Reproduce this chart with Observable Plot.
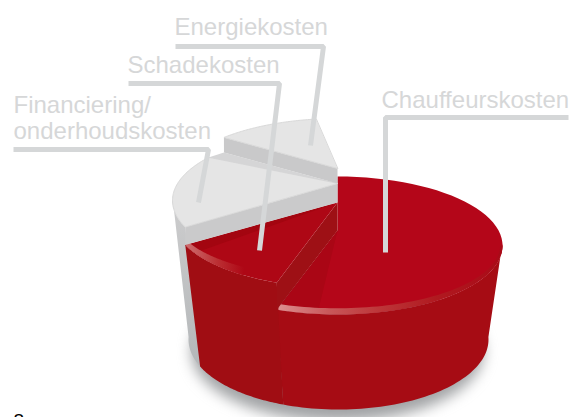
<!DOCTYPE html>
<html>
<head>
<meta charset="utf-8">
<script src="https://cdn.jsdelivr.net/npm/d3@7"></script>
<script src="https://cdn.jsdelivr.net/npm/@observablehq/plot@0.6"></script>
<style>html,body{margin:0;padding:0;background:#fff;overflow:hidden}svg{display:block}</style>
</head>
<body>
<div id="chart"></div>
<script>
// Data (share of costs, %)
const categories = ["Chauffeurskosten", "Schadekosten", "Financiering/onderhoudskosten", "Energiekosten"];
const shares = [56, 12.7, 17, 10];

// Layout of the stepped, tilted pie
const rx = 165, ry = 69, cx = 337;
const topCy = [245, 218, 200, 187];   // each slice sits higher than the previous
const apexY = [230, 202, 183, 168];
const gapBefore = [0, 0, 0, 8];       // degrees of empty rim before a slice
const base = {cx: 338, cy: 339, rx: 150, ry: 70};
const rad = d => d * Math.PI / 180;

let acc = 0;
const slices = categories.map((name, i) => {
  const start = acc + gapBefore[i];
  const end = start + shares[i] * 3.6;
  acc = end;
  return {name, start, end, cy: topCy[i], apex: apexY[i]};
});
const range = (a, b, n = 60) => d3.range(n + 1).map(k => a + (b - a) * k / n);
const topPt = (s, a, kx = 1, ky = 1) => ({x: cx + rx * kx * Math.sin(rad(a)), y: s.cy - ry * ky * Math.cos(rad(a))});
const basePt = a => ({x: base.cx + base.rx * Math.sin(rad(a)), y: base.cy - base.ry * Math.cos(rad(a))});
const topArc = (s, a, b) => range(a, b).map(d => topPt(s, d));
const baseArc = (a, b) => range(a, b).map(basePt);
const [chauffeur, schade, fin, energie] = slices;

const sector = s => [{x: cx, y: s.apex}, ...topArc(s, s.start, s.end)];
const poly = (pts, fill, extra = {}) =>
  Plot.line(pts, {x: "x", y: "y", fill, stroke: "none", curve: "linear-closed", ...extra});
const edge = (s, a, dy) => [{x: cx, y: s.apex + dy}, {x: topPt(s, a).x, y: topPt(s, a).y + dy}];

const leaders = [
  {label: "Energiekosten", pts: [[175, 46], [323, 46], [310, 145]]},
  {label: "Schadekosten", pts: [[128, 83], [279, 83], [259, 250]]},
  {label: "Financiering", pts: [[13, 149], [208, 149], [198, 202]]},
  {label: "Chauffeurskosten", pts: [[568, 117], [385, 117], [385, 252]]}
].flatMap(l => l.pts.map(([x, y]) => ({label: l.label, x, y})));

const labels = [
  {t: "Energiekosten", x: 174, y: 34},
  {t: "Schadekosten", x: 127, y: 72},
  {t: "Financiering/", x: 13, y: 112},
  {t: "onderhoudskosten", x: 13, y: 138},
  {t: "Chauffeurskosten", x: 381, y: 107}
];

const defs = () => d3.create("svg:defs").html(`
  <linearGradient id="gGrey" x1="0" y1="0" x2="0" y2="1">
    <stop offset="0" stop-color="#cdcdce"/><stop offset="1" stop-color="#b4b7b9"/>
  </linearGradient>
  <linearGradient id="gGlossA" x1="0" y1="0" x2="1" y2="0">
    <stop offset="0" stop-color="#dc8f8f"/><stop offset=".22" stop-color="#c9595b"/>
    <stop offset=".45" stop-color="#bd3639"/><stop offset=".7" stop-color="#b01a20"/>
    <stop offset="1" stop-color="#a90a17"/>
  </linearGradient>
  <linearGradient id="gGlossB" x1="0" y1="0" x2="1" y2="0">
    <stop offset="0" stop-color="#ce6d6f"/><stop offset=".55" stop-color="#bb2e32"/>
    <stop offset="1" stop-color="#ae0715"/>
  </linearGradient>`).node();

const chart = Plot.plot({
  width: 569, height: 417, margin: 0,
  x: {domain: [0, 569], range: [0, 569], axis: null},
  y: {domain: [0, 417], range: [0, 417], axis: null},
  marks: [
    defs,
    // soft ground shadow
    poly(range(0, 360, 90).map(a => ({x: 337 + 146 * Math.sin(rad(a)), y: 351 - 70 * Math.cos(rad(a))})), "#8a8c8f",
      {imageFilter: "blur(7px)", fillOpacity: .8}),
    // financing outer wall
    poly([...topArc(fin, fin.start, 272), ...baseArc(272, fin.start)], "url(#gGrey)"),
    // chauffeur slice
    poly([...topArc(chauffeur, 88, chauffeur.end), ...baseArc(chauffeur.end, 88)], "#a60c14"),
    poly(sector(chauffeur), "#b40619"),
    poly([{x: cx, y: chauffeur.apex}, ...topArc(chauffeur, 187, chauffeur.end)], "#aa0615"),
    // rim sheen fading towards the right
    poly([...range(chauffeur.end - .5, 90).map(d => topPt(chauffeur, d)),
          ...range(90, chauffeur.end - .5).map(d => topPt(chauffeur, d, .985, .91))], "url(#gGlossA)"),
    // schade slice
    poly([...topArc(schade, schade.start, schade.end), ...baseArc(schade.end, schade.start)], "#a00d13"),
    poly([...edge(schade, schade.start, 0), ...edge(chauffeur, chauffeur.end, 0).reverse()], "#9e1015"),
    poly(sector(schade), "#ae0715"),
    poly([{x: cx, y: schade.apex}, topPt(schade, schade.end), topPt(schade, 240)], "#a30510"),
    poly([...range(schade.end - .5, 215).map(d => topPt(schade, d)),
          ...range(215, schade.end - .5).map(d => topPt(schade, d, .985, .86))], "url(#gGlossB)"),
    // financing slice
    poly([...edge(fin, fin.start, 0), ...edge(schade, schade.end, 0).reverse()], "#cacacb"),
    poly(sector(fin), "#e5e5e5", {stroke: "#d9d9d9", strokeWidth: 1}),
    poly([{x: cx, y: fin.apex}, topPt(fin, fin.end), {x: topPt(energie, energie.start).x, y: topPt(energie, energie.start).y + 15}], "#d5d5d6"),
    // energy slice
    poly([...edge(energie, energie.start, 0), ...edge(energie, energie.start, 15).reverse()], "#c9c9ca"),
    poly(sector(energie), "#e5e5e5", {stroke: "#d9d9d9", strokeWidth: 1}),
    // leaders
    Plot.line(leaders, {x: "x", y: "y", z: "label", stroke: "#d5d7d8", strokeWidth: 5, strokeLinejoin: "miter", strokeLinecap: "butt"}),
    Plot.text(labels, {x: "x", y: "y", text: "t", textAnchor: "start", lineAnchor: "bottom", fill: "#d6d7d8",
      fontSize: 24, fontFamily: "Liberation Sans"}),
    Plot.text(["8"], {x: () => 13, y: () => 426, text: d => d, textAnchor: "start", lineAnchor: "bottom", fill: "#000",
      fontSize: 19, fontFamily: "Liberation Sans"})
  ]
});
document.getElementById("chart").append(chart);
</script>
</body>
</html>
